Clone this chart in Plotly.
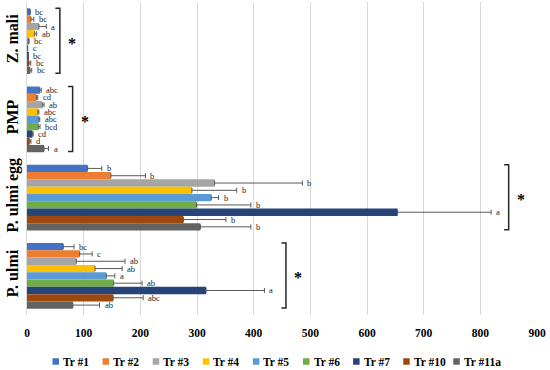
import plotly.graph_objects as go

categories = ["Z. mali", "PMP", "P. ulmi egg", "P. ulmi"]
treatments = ["Tr #1", "Tr #2", "Tr #3", "Tr #4", "Tr #5", "Tr #6", "Tr #7", "Tr #10", "Tr #11a"]
colors = ["#4472C4", "#ED7D31", "#A5A5A5", "#FFC000", "#5B9BD5", "#70AD47", "#264478", "#9E480E", "#636363"]

# values per treatment, in category order [Z. mali, PMP, P. ulmi egg, P. ulmi]
means = {
    "Tr #1":   [5.3, 22.5, 107, 64],
    "Tr #2":   [7, 16.6, 148, 93],
    "Tr #3":   [21, 27, 331, 87],
    "Tr #4":   [13.6, 19, 291, 120],
    "Tr #5":   [3, 21, 325, 140],
    "Tr #6":   [0.8, 20, 299, 153],
    "Tr #7":   [1.8, 9.5, 654, 316],
    "Tr #10":  [3.6, 4.7, 276, 152],
    "Tr #11a": [5.3, 30, 306, 81],
}
errors = {
    "Tr #1":   [0.5, 2.5, 25, 19],
    "Tr #2":   [5, 2.5, 61, 22],
    "Tr #3":   [13, 3, 155, 86],
    "Tr #4":   [3.5, 2, 79, 48],
    "Tr #5":   [0.6, 1.5, 13, 15],
    "Tr #6":   [0.5, 3, 96, 50],
    "Tr #7":   [0.5, 1.5, 165, 103],
    "Tr #10":  [3, 2.3, 75, 53],
    "Tr #11a": [3, 8, 89, 47],
}
letters = {
    "Tr #1":   ["bc", "abc", "b", "bc"],
    "Tr #2":   ["bc", "cd", "b", "c"],
    "Tr #3":   ["a", "ab", "b", "ab"],
    "Tr #4":   ["ab", "abc", "b", "ab"],
    "Tr #5":   ["bc", "abc", "b", "a"],
    "Tr #6":   ["c", "bcd", "b", "ab"],
    "Tr #7":   ["bc", "cd", "a", "a"],
    "Tr #10":  ["bc", "d", "b", "abc"],
    "Tr #11a": ["bc", "a", "b", "ab"],
}
# significance brackets (value-axis position of each bracket)
bracket_x = [58, 80.5, 850, 457]
x_ticks = [0, 100, 200, 300, 400, 500, 600, 700, 800, 900]

SERIF = "Liberation Serif"
W, H = 550, 370
ML, MR, MT, MB = 27, 13, 2, 55
bargap = 0.16
n = len(treatments)
bw = (1 - bargap) / n

fig = go.Figure()
for t, c in zip(treatments, colors):
    fig.add_trace(go.Bar(
        name=t, y=categories, x=means[t], orientation="h",
        marker=dict(color=c, line=dict(width=0)),
        error_x=dict(type="data", array=errors[t], arrayminus=[0] * len(categories),
                     symmetric=False, color="#595959", thickness=1, width=2.5),
        showlegend=False, hoverinfo="skip",
    ))

annotations = []
for i, t in enumerate(treatments):
    for k in range(len(categories)):
        annotations.append(dict(
            x=means[t][k] + errors[t][k], y=k + (i - (n - 1) / 2) * bw,
            xref="x", yref="y", text=letters[t][k], showarrow=False,
            xanchor="left", yanchor="middle", xshift=3,
            font=dict(family=SERIF, size=8.5, color="#1a1a1a"),
        ))

shapes = []
for k, bx in enumerate(bracket_x):
    top = k - 0.42
    bot = k + 0.41
    hook = 8
    shapes.append(dict(
        type="path", xref="x", yref="y",
        path=f"M {bx - hook},{top} L {bx},{top} L {bx},{bot} L {bx - hook},{bot}",
        line=dict(color="#262626", width=1.5),
    ))
    annotations.append(dict(
        x=bx, y=k, xref="x", yref="y", text="*", showarrow=False,
        xanchor="left", yanchor="middle", xshift=6, yshift=-2,
        font=dict(family=SERIF, size=16, color="#000000", weight="bold"),
    ))

# manual single-row legend
pw = W - ML - MR
ph = H - MT - MB
leg_y = (H - MB - 361.5) / ph
leg_start, leg_pitch, sq = 52.5, 50.1, 6.5
for i, (t, c) in enumerate(zip(treatments, colors)):
    x0 = leg_start + i * leg_pitch
    shapes.append(dict(
        type="rect", xref="paper", yref="paper",
        x0=(x0 - ML) / pw, x1=(x0 + sq - ML) / pw,
        y0=leg_y - sq / 2 / ph, y1=leg_y + sq / 2 / ph,
        fillcolor=c, line=dict(width=0),
    ))
    annotations.append(dict(
        x=(x0 + sq + 2 - ML) / pw, y=leg_y, xref="paper", yref="paper",
        text=t, showarrow=False, xanchor="left", yanchor="middle",
        font=dict(family=SERIF, size=11.5, color="#000000", weight="bold"),
    ))

fig.update_layout(
    width=W, height=H,
    margin=dict(l=ML, r=MR, t=MT, b=MB),
    paper_bgcolor="white", plot_bgcolor="white",
    barmode="group", bargap=bargap, bargroupgap=0,
    showlegend=False,
    xaxis=dict(range=[0, 900], tickvals=x_ticks, showgrid=True, gridcolor="#D9D9D9",
               gridwidth=1, zeroline=False, showline=False, ticks="",
               automargin=False, ticklabelstandoff=9,
               tickfont=dict(family=SERIF, size=11.5, color="#000000", weight="bold")),
    yaxis=dict(type="category", categoryorder="array", categoryarray=categories,
               range=[3.5, -0.5], showgrid=False, showline=True, linecolor="#D9D9D9",
               linewidth=1, ticks="", tickangle=-90, automargin=False,
               ticklabelstandoff=2,
               tickfont=dict(family=SERIF, size=16, color="#000000", weight="bold")),
    annotations=annotations, shapes=shapes,
)

fig.write_html("out.html", config={"displayModeBar": False},
               post_script="document.body.style.margin='0px';")
